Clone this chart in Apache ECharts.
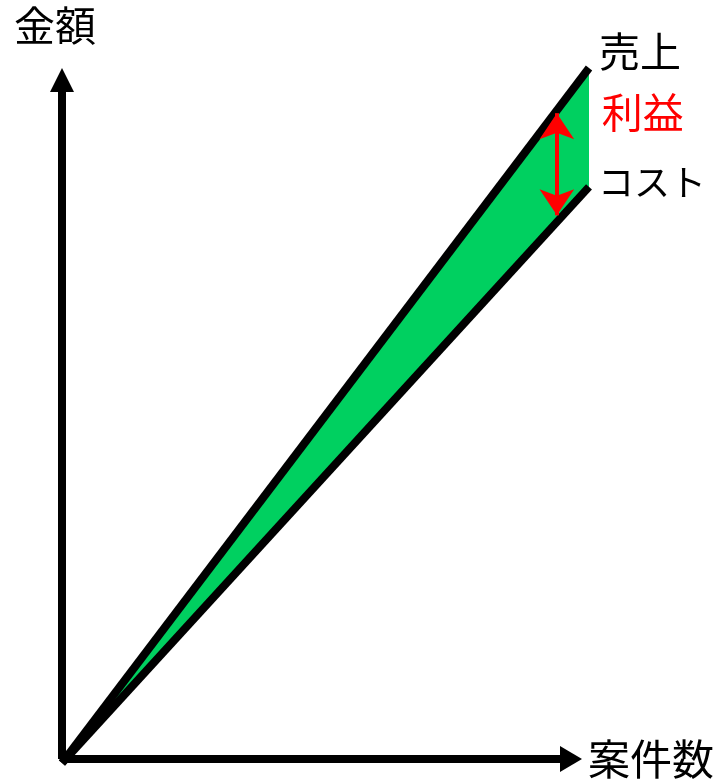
<!DOCTYPE html>
<html>
<head>
<meta charset="utf-8">
<script src="https://cdn.jsdelivr.net/npm/echarts@6/dist/echarts.min.js"></script>
<style>
  html, body { margin: 0; padding: 0; background: #fff; }
  #main { width: 717px; height: 780px; }
</style>
</head>
<body>
<div id="main"></div>
<script>
// 案件数（横軸）と金額（縦軸）
const caseCounts = [0, 100]
const salesValues = [0, 100]
const costValues = [0, 82.9]
// 利益の矢印（x位置と上下端）
const profitArrowX = 93.9
const profitArrowTop = 93.5
const profitArrowBottom = 78.8

const font = '"Noto Sans CJK JP", "Noto Sans", sans-serif'
const pairs = (ys) => caseCounts.map((x, i) => [x, ys[i]])

const hiddenAxis = {
  type: 'value',
  min: 0,
  max: 100,
  axisLine: { show: false },
  axisTick: { show: false },
  axisLabel: { show: false },
  splitLine: { show: false }
}
const arrowAxis = {
  type: 'value',
  z: 10,
  min: 0,
  max: 100,
  nameLocation: 'end',
  axisTick: { show: false },
  axisLabel: { show: false },
  splitLine: { show: false }
}

const chart = echarts.init(document.getElementById('main'))
const option = {
  animation: false,
  grid: [
    // 矢印付きの軸
    { left: 62, right: 146, top: 80, bottom: 17 },
    // データ
    { left: 62, right: 128, top: 68, bottom: 17 }
  ],
  xAxis: [
    {
      ...arrowAxis,
      gridIndex: 0,
      name: '案件数',
      nameGap: 17,
      nameTextStyle: { color: '#000', fontSize: 42, fontFamily: font, padding: [0, 0, 8, 0] },
      axisLine: {
        show: true,
        symbol: ['none', 'triangle'],
        symbolSize: [26, 22],
        lineStyle: { color: '#000', width: 8, cap: 'butt' }
      }
    },
    { ...hiddenAxis, gridIndex: 1 }
  ],
  yAxis: [
    {
      ...arrowAxis,
      gridIndex: 0,
      name: '金額',
      nameGap: 34,
      nameTextStyle: { color: '#000', fontSize: 41, fontFamily: font, padding: [0, 14, 0, 0] },
      axisLine: {
        show: true,
        symbol: ['none', 'triangle'],
        symbolSize: [24, 24],
        lineStyle: { color: '#000', width: 8, cap: 'butt' }
      }
    },
    { ...hiddenAxis, gridIndex: 1 }
  ],
  series: [
    {
      // 売上の下を緑で塗る
      name: 'salesArea',
      type: 'line',
      xAxisIndex: 1,
      yAxisIndex: 1,
      data: pairs(salesValues),
      showSymbol: false,
      lineStyle: { width: 0 },
      areaStyle: { color: '#00d060', opacity: 1 },
      silent: true
    },
    {
      // コストの下は白で消す（残りが利益）
      name: 'costArea',
      type: 'line',
      xAxisIndex: 1,
      yAxisIndex: 1,
      data: pairs(costValues),
      showSymbol: false,
      lineStyle: { width: 0 },
      areaStyle: { color: '#ffffff', opacity: 1 },
      silent: true,
      markLine: {
        silent: true,
        symbol: ['arrow', 'arrow'],
        symbolSize: [26, 26],
        lineStyle: { color: '#ff0000', width: 4, type: 'solid' },
        label: {
          show: true,
          position: 'start',
          formatter: '利益',
          color: '#ff0000',
          fontSize: 41,
          fontFamily: font,
          offset: [86, 25]
        },
        data: [[
          { coord: [profitArrowX, profitArrowTop] },
          { coord: [profitArrowX, profitArrowBottom] }
        ]]
      }
    },
    {
      name: 'コスト',
      type: 'line',
      xAxisIndex: 1,
      yAxisIndex: 1,
      data: pairs(costValues),
      showSymbol: false,
      clip: false,
      lineStyle: { color: '#000', width: 8, cap: 'butt' },
      endLabel: {
        show: true,
        formatter: '{a}',
        color: '#000',
        fontSize: 36,
        fontFamily: font,
        distance: 9,
        offset: [0, -5]
      }
    },
    {
      name: '売上',
      type: 'line',
      xAxisIndex: 1,
      yAxisIndex: 1,
      data: pairs(salesValues),
      showSymbol: false,
      clip: false,
      lineStyle: { color: '#000', width: 8, cap: 'butt' },
      endLabel: {
        show: true,
        formatter: '{a}',
        color: '#000',
        fontSize: 41,
        fontFamily: font,
        distance: 10,
        offset: [0, -17]
      }
    }
  ]
}
option && chart.setOption(option)
</script>
</body>
</html>
